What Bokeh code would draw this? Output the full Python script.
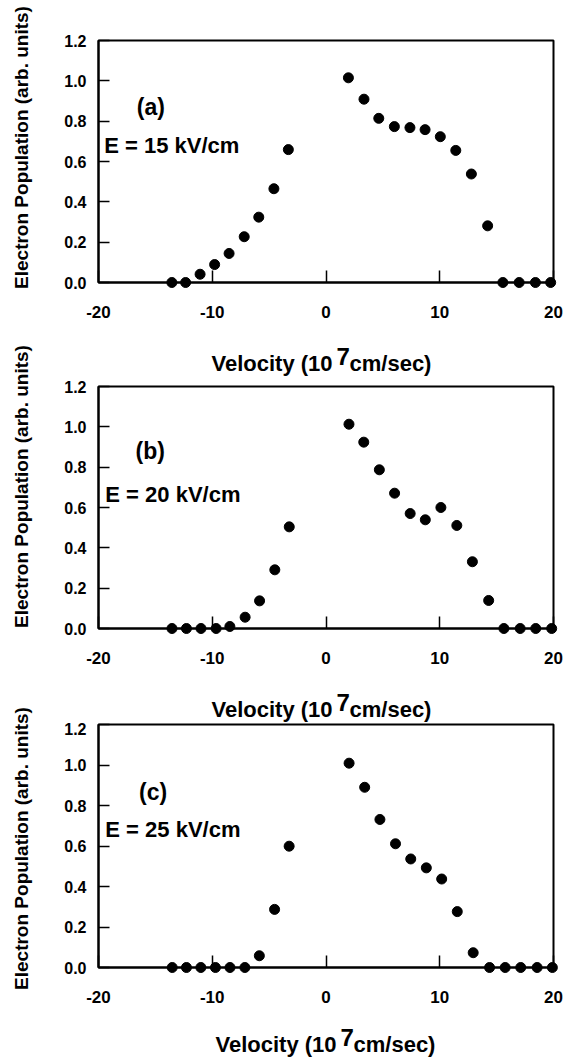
import math
from bokeh.plotting import figure
from bokeh.models import Range1d, FixedTicker, PrintfTickFormatter, Label
from bokeh.layouts import row, column
from bokeh.embed import file_html
from bokeh.resources import INLINE

# ---------------- data ----------------
x_a = [-13.55, -12.34, -11.07, -9.79, -8.52, -7.19, -5.91, -4.58, -3.31,
       1.97, 3.34, 4.64, 6.01, 7.38, 8.71, 10.05, 11.41, 12.78, 14.21,
       15.55, 16.98, 18.41, 19.75]
y_a = [0.0, 0.0, 0.041, 0.089, 0.144, 0.227, 0.324, 0.465, 0.659,
       1.015, 0.909, 0.814, 0.773, 0.768, 0.758, 0.723, 0.655, 0.538, 0.281,
       0.0, 0.0, 0.0, 0.0]

x_b = [-13.54, -12.27, -10.99, -9.66, -8.45, -7.11, -5.84, -4.50, -3.23,
       2.02, 3.32, 4.69, 6.03, 7.40, 8.73, 10.10, 11.50, 12.87, 14.30,
       15.64, 17.07, 18.44, 19.84]
y_b = [0.0, 0.0, 0.0, 0.0, 0.01, 0.056, 0.137, 0.291, 0.504,
       1.013, 0.924, 0.787, 0.671, 0.570, 0.539, 0.600, 0.511, 0.331, 0.139,
       0.0, 0.0, 0.0, 0.0]

x_c = [-13.52, -12.27, -11.00, -9.72, -8.44, -7.13, -5.86, -4.52, -3.24,
       2.03, 3.40, 4.74, 6.11, 7.45, 8.82, 10.17, 11.54, 12.94, 14.38,
       15.75, 17.12, 18.56, 19.90]
y_c = [0.0, 0.0, 0.0, 0.0, 0.0, 0.0, 0.058, 0.287, 0.599,
       1.009, 0.890, 0.731, 0.611, 0.536, 0.492, 0.437, 0.276, 0.073, 0.0,
       0.0, 0.0, 0.0, 0.0]

x_ticks = [-20, -10, 0, 10, 20]
y_ticks = [0.0, 0.2, 0.4, 0.6, 0.8, 1.0, 1.2]
panel_tags = ["(a)", "(b)", "(c)"]
field_labels = ["E = 15 kV/cm", "E = 20 kV/cm", "E = 25 kV/cm"]
x_label_parts = ["Velocity (10", "7", "cm/sec)"]
y_label_text = "Electron Population (arb. units)"

# ---------------- style / layout ----------------
FONT = "Liberation Sans"
PANEL_W = 518
LEFT_W = 48
BORDER_L = 50
BORDER_R = 13
FRAME_L = LEFT_W + BORDER_L            # page x of frame left
FRAME_R = LEFT_W + PANEL_W - BORDER_R  # page x of frame right

# per panel: (border_top, frame_h, border_bottom)
geoms = [
    (40, 242, 53),
    (6, 242, 52),
    (2, 243, 43),
]
# (page top, height) of the strips holding the x-axis titles
xlab_strips = [(335, 45), (680, 42), (1010, 50)]
# label positions (data coords) inside the frames
tag_pos = [(-15.4, 0.87), (-15.45, 0.88), (-15.2, 0.866)]
field_pos = [(-19.5, 0.68), (-19.4, 0.664), (-19.4, 0.683)]
# x-axis title: left x on page, text-middle y on page
xlab_pos = [(211, 363), (211, 709), (215, 1044)]
# y-axis title centres on page
ylab_cy = [147, 486, 848]
TOTAL_H = 1060


def make_panel(xs, ys, i):
    top, fh, bottom = geoms[i]
    p = figure(width=PANEL_W, height=top + fh + bottom,
               x_range=Range1d(-20, 20), y_range=Range1d(0, 1.2),
               output_backend="svg", toolbar_location=None,
               min_border_left=BORDER_L, min_border_right=BORDER_R,
               min_border_top=top, min_border_bottom=bottom)
    p.grid.visible = False
    p.background_fill_color = "white"
    p.border_fill_color = "white"
    p.outline_line_color = "black"
    p.outline_line_width = 2

    xa = p.xaxis[0]
    xa.ticker = FixedTicker(ticks=x_ticks)
    xa.formatter = PrintfTickFormatter(format="%d")
    xa.axis_line_width = 2
    xa.major_tick_in = 12
    xa.major_tick_out = 0
    xa.major_tick_line_width = 1.5
    xa.minor_tick_line_color = None
    xa.major_label_standoff = 23
    xa.major_label_text_font = FONT
    xa.major_label_text_font_style = "bold"
    xa.major_label_text_font_size = "17px"
    xa.major_label_text_color = "black"

    ya = p.yaxis[0]
    ya.ticker = FixedTicker(ticks=y_ticks)
    ya.formatter = PrintfTickFormatter(format="%.1f")
    ya.axis_line_width = 2
    ya.major_tick_in = 11
    ya.major_tick_out = 0
    ya.major_tick_line_width = 1.5
    ya.minor_tick_line_color = None
    ya.major_label_standoff = 12
    ya.major_label_text_font = FONT
    ya.major_label_text_font_style = "bold"
    ya.major_label_text_font_size = "16px"
    ya.major_label_text_color = "black"

    p.scatter(xs, ys, size=10, color="black", level="overlay")

    p.add_layout(Label(x=tag_pos[i][0], y=tag_pos[i][1], text=panel_tags[i],
                       text_font=FONT, text_font_style="bold", text_font_size="23px",
                       text_align="center", text_baseline="middle", text_color="black"))
    p.add_layout(Label(x=field_pos[i][0], y=field_pos[i][1], text=field_labels[i],
                       text_font=FONT, text_font_style="bold", text_font_size="22px",
                       text_align="left", text_baseline="middle", text_color="black"))
    return p


def make_xlabel_strip(i):
    strip_top, strip_h = xlab_strips[i]
    # frame of the strip is aligned with the panels' frames; map page pixels directly
    s = figure(width=PANEL_W, height=strip_h,
               x_range=Range1d(FRAME_L, FRAME_R),
               y_range=Range1d(-(strip_top + strip_h), -strip_top),
               output_backend="svg", toolbar_location=None,
               x_axis_location=None, y_axis_location=None,
               min_border_left=BORDER_L, min_border_right=BORDER_R,
               min_border_top=0, min_border_bottom=0)
    s.grid.visible = False
    s.outline_line_color = None
    s.background_fill_color = "white"
    s.border_fill_color = "white"
    lx, ly = xlab_pos[i]
    w_main = 122
    w_sup = 13
    parts = [
        (x_label_parts[0], lx, ly, "22px"),
        (x_label_parts[1], lx + w_main + 3, ly - 7, "24px"),
        (x_label_parts[2], lx + w_main + 3 + w_sup, ly, "22px"),
    ]
    for txt, px, py, fs in parts:
        s.add_layout(Label(x=px, y=-py, text=txt,
                           text_font=FONT, text_font_style="bold", text_font_size=fs,
                           text_align="left", text_baseline="middle",
                           text_color="black"))
    return s


pa = make_panel(x_a, y_a, 0)
pb = make_panel(x_b, y_b, 1)
pc = make_panel(x_c, y_c, 2)
la = make_xlabel_strip(0)
lb_ = make_xlabel_strip(1)
lc = make_xlabel_strip(2)

side = figure(width=LEFT_W, height=TOTAL_H, x_range=Range1d(0, LEFT_W),
              y_range=Range1d(-TOTAL_H, 0), output_backend="svg",
              toolbar_location=None, x_axis_location=None, y_axis_location=None,
              min_border=0)
side.grid.visible = False
side.outline_line_color = None
side.background_fill_color = "white"
side.border_fill_color = "white"
for cy in ylab_cy:
    side.add_layout(Label(x=21, y=-cy, text=y_label_text,
                          angle=math.pi / 2, text_font=FONT, text_font_style="bold",
                          text_font_size="19px", text_align="center",
                          text_baseline="middle", text_color="black"))

layout = row(side, column(pa, la, pb, lb_, pc, lc))

with open("out.html", "w") as f:
    f.write(file_html(layout, INLINE))
